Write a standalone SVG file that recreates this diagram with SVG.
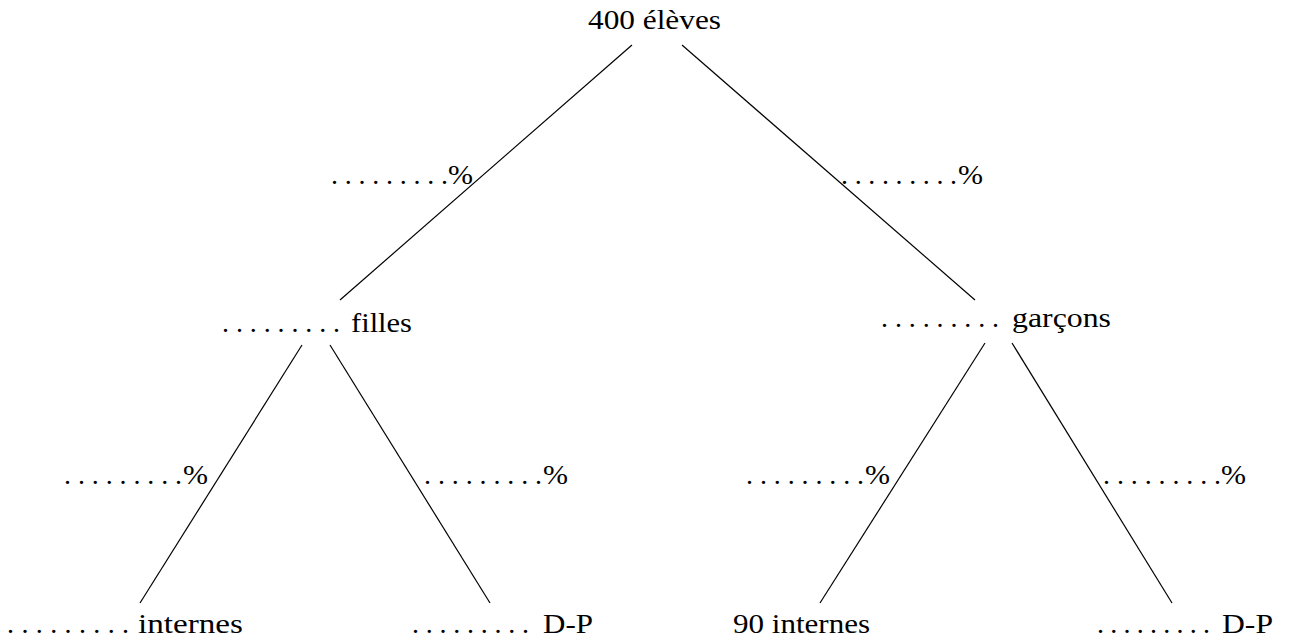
<svg xmlns="http://www.w3.org/2000/svg" width="1292" height="642" viewBox="0 0 1292 642">
<style>
.e{stroke:#000;stroke-width:1.2;fill:none}
text{font-family:"Liberation Serif","Times New Roman",serif;font-size:28px;fill:#000}
</style>
<rect width="1292" height="642" fill="#fff"/>
<g id="connectors">
<line class="e" x1="632" y1="45" x2="340" y2="300"/>
<line class="e" x1="682" y1="45" x2="975" y2="300"/>
<line class="e" x1="302" y1="345" x2="140" y2="603"/>
<line class="e" x1="330" y1="345" x2="490" y2="603"/>
<line class="e" x1="985" y1="343" x2="820" y2="603"/>
<line class="e" x1="1012" y1="343" x2="1172" y2="603"/>
</g>
<g id="root"><text x="588" y="29" textLength="133" lengthAdjust="spacingAndGlyphs">400 élèves</text></g>
<g id="p1"><text x="331" y="184" textLength="117">.........</text><text x="448" y="184" textLength="25" lengthAdjust="spacingAndGlyphs">%</text></g>
<g id="p2"><text x="841" y="184" textLength="116">.........</text><text x="958" y="184" textLength="25" lengthAdjust="spacingAndGlyphs">%</text></g>
<g id="filles"><text x="222" y="332" textLength="118">.........</text><text x="351" y="332" textLength="61" lengthAdjust="spacingAndGlyphs">filles</text></g>
<g id="garcons"><text x="881" y="327" textLength="118">.........</text><text x="1012" y="327" textLength="99" lengthAdjust="spacingAndGlyphs">garçons</text></g>
<g id="p3"><text x="64" y="484" textLength="118">.........</text><text x="183" y="484" textLength="25" lengthAdjust="spacingAndGlyphs">%</text></g>
<g id="p4"><text x="424" y="484" textLength="118">.........</text><text x="543" y="484" textLength="25" lengthAdjust="spacingAndGlyphs">%</text></g>
<g id="p5"><text x="746" y="484" textLength="118">.........</text><text x="865" y="484" textLength="25" lengthAdjust="spacingAndGlyphs">%</text></g>
<g id="p6"><text x="1103" y="484" textLength="118">.........</text><text x="1221" y="484" textLength="25" lengthAdjust="spacingAndGlyphs">%</text></g>
<g id="fi"><text x="7" y="633" textLength="122">.........</text><text x="138" y="633" textLength="105" lengthAdjust="spacingAndGlyphs">internes</text></g>
<g id="fd"><text x="412" y="633" textLength="117">.........</text><text x="543" y="633" textLength="50" lengthAdjust="spacingAndGlyphs">D-P</text></g>
<g id="gi"><text x="733" y="633" textLength="137" lengthAdjust="spacingAndGlyphs">90 internes</text></g>
<g id="gd"><text x="1097" y="633" textLength="113">.........</text><text x="1222" y="633" textLength="51" lengthAdjust="spacingAndGlyphs">D-P</text></g>
</svg>
